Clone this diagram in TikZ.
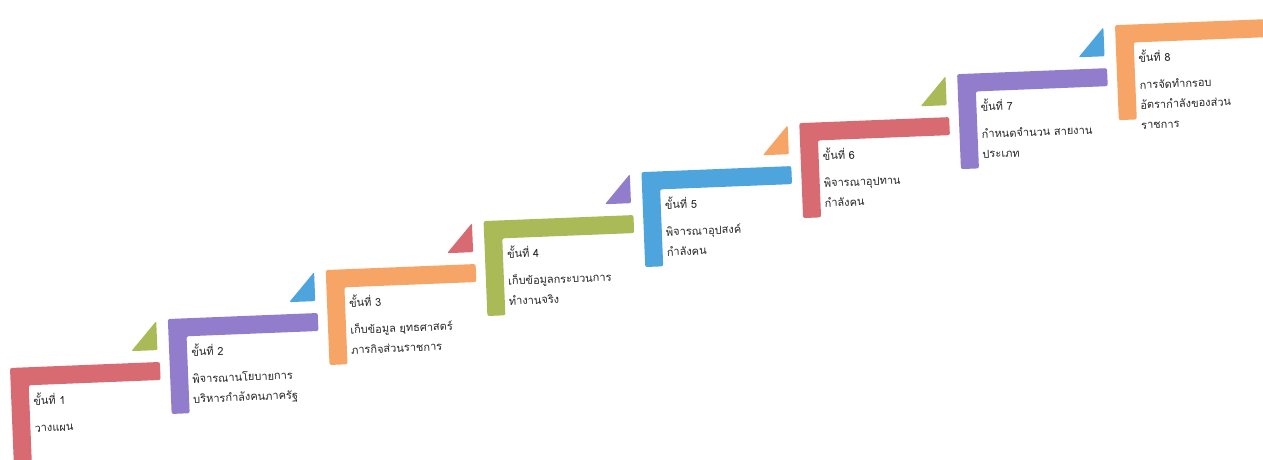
\documentclass[tikz,border=0pt]{standalone}
\usepackage{fontspec}
\newfontfamily\thaifont[Script=Thai]{Loma}
\definecolor{cred}{RGB}{216,106,114}
\definecolor{cpurple}{RGB}{146,125,205}
\definecolor{corange}{RGB}{246,165,102}
\definecolor{cgreen}{RGB}{170,186,86}
\definecolor{cblue}{RGB}{78,165,222}
\tikzset{
  lbar/.style={fill=#1, rounded corners=2pt},
  tri/.style={fill=#1, rounded corners=1.2pt},
  txt/.style={anchor=base west, inner sep=0pt, text=black!85,
    font=\thaifont\fontsize{11}{13}\selectfont},
}
\newcommand\drawstep[3]{%
  \fill[lbar=#2] (0,0) -- (150,0) -- (150,-18) -- (18,-18) -- (18,-95) -- (0,-95) -- cycle;
  \ifx\relax#3\relax\else
  \fill[tri=#3] (122,12) -- (148,12) -- (148,41) -- cycle;
  \fi
  \node[txt] (h#1) at (22,-38) {ขั้นที่ #1};}
\begin{document}
\begin{tikzpicture}[x=1pt,y=1pt]
\path[use as bounding box, clip] (0,0) rectangle (1263,459);
\fill[white] (0,0) rectangle (1263,459);
\begin{scope}[shift={(10,91)}, rotate=2.3, transform shape]
  \begin{scope}[shift={(0,0)}]
    \drawstep{1}{cred}{cgreen}
    \node[txt] (b1a) at (22,-65) {วางแผน};
  \end{scope}
  \begin{scope}[shift={(159.7,42.6)}]
    \drawstep{2}{cpurple}{cblue}
    \node[txt] (b2a) at (22,-65) {พิจารณานโยบายการ};
    \node[txt] (b2b) at (22,-85) {บริหารกำลังคนภาครัฐ};
  \end{scope}
  \begin{scope}[shift={(319.4,85.2)}]
    \drawstep{3}{corange}{cred}
    \node[txt] (b3a) at (22,-65) {เก็บข้อมูล ยุทธศาสตร์};
    \node[txt] (b3b) at (22,-85) {ภารกิจส่วนราชการ};
  \end{scope}
  \begin{scope}[shift={(479.1,127.8)}]
    \drawstep{4}{cgreen}{cpurple}
    \node[txt] (b4a) at (22,-65) {เก็บข้อมูลกระบวนการ};
    \node[txt] (b4b) at (22,-85) {ทำงานจริง};
  \end{scope}
  \begin{scope}[shift={(638.8,170.4)}]
    \drawstep{5}{cblue}{corange}
    \node[txt] (b5a) at (22,-65) {พิจารณาอุปสงค์};
    \node[txt] (b5b) at (22,-85) {กำลังคน};
  \end{scope}
  \begin{scope}[shift={(798.5,213.0)}]
    \drawstep{6}{cred}{cgreen}
    \node[txt] (b6a) at (22,-65) {พิจารณาอุปทาน};
    \node[txt] (b6b) at (22,-85) {กำลังคน};
  \end{scope}
  \begin{scope}[shift={(958.2,255.6)}]
    \drawstep{7}{cpurple}{cblue}
    \node[txt] (b7a) at (22,-65) {กำหนดจำนวน สายงาน};
    \node[txt] (b7b) at (22,-85) {ประเภท};
  \end{scope}
  \begin{scope}[shift={(1117.9,298.2)}]
    \drawstep{8}{corange}{}
    \node[txt] (b8a) at (22,-65) {การจัดทำกรอบ};
    \node[txt] (b8b) at (22,-85) {อัตรากำลังของส่วน};
    \node[txt] (b8c) at (22,-105) {ราชการ};
  \end{scope}
\end{scope}
\end{tikzpicture}
\end{document}
